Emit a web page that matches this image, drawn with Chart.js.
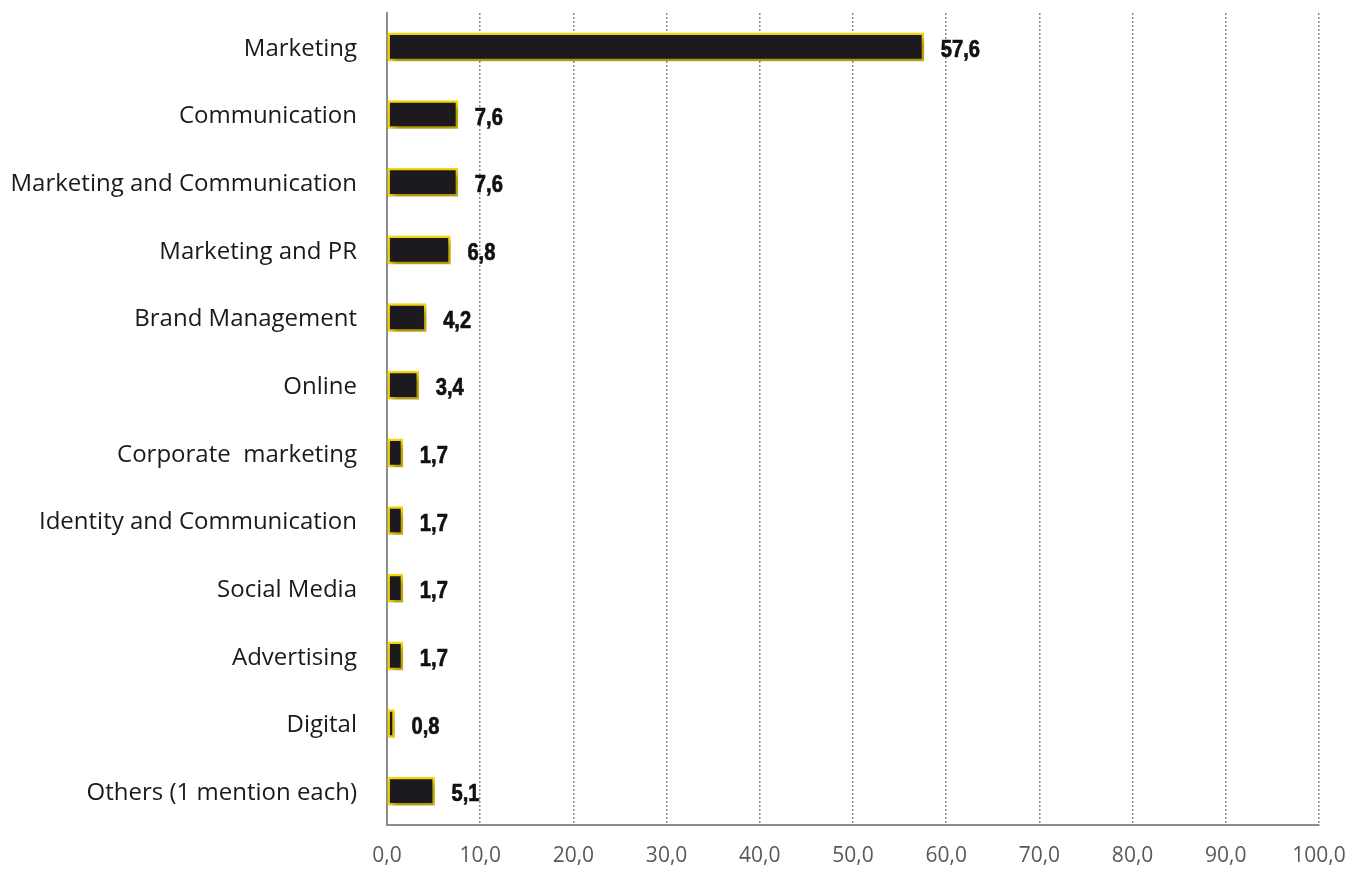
<!DOCTYPE html>
<html>
<head>
<meta charset="utf-8">
<script src="https://cdn.jsdelivr.net/npm/chart.js@4"></script>
<style>
  html, body { margin: 0; padding: 0; background: #fff; }
  #wrap { width: 1348px; height: 870px; }
</style>
</head>
<body>
<div id="wrap"><canvas id="roles"></canvas></div>
<script>
const categories = [
    'Marketing', 'Communication', 'Marketing and Communication', 'Marketing and PR',
    'Brand Management', 'Online', 'Corporate  marketing', 'Identity and Communication',
    'Social Media', 'Advertising', 'Digital', 'Others (1 mention each)'
];
const shares = [57.6, 7.6, 7.6, 6.8, 4.2, 3.4, 1.7, 1.7, 1.7, 1.7, 0.8, 5.1];
const xTicks = [0, 10, 20, 30, 40, 50, 60, 70, 80, 90, 100];

const fmt = v => v.toFixed(1).replace('.', ',');

// drop shadow under the bars
const barShadow = {
    id: 'barShadow',
    beforeDatasetDraw: (chart) => {
        const ctx = chart.ctx;
        ctx.save();
        ctx.shadowColor = 'rgba(0,0,0,0.35)';
        ctx.shadowBlur = 6;
        ctx.shadowOffsetX = 3;
        ctx.shadowOffsetY = 4;
    },
    afterDatasetDraw: (chart) => { chart.ctx.restore(); }
};

// value written to the right of each bar, bold and narrowed
const valueLabels = {
    id: 'valueLabels',
    afterDatasetsDraw: (chart) => {
        const ctx = chart.ctx;
        const meta = chart.getDatasetMeta(0);
        meta.data.forEach((bar, i) => {
            ctx.save();
            ctx.translate(bar.x + 17, bar.y + 10);
            ctx.scale(0.84, 1);
            ctx.font = 'bold 24px "Liberation Sans", Arial, sans-serif';
            ctx.fillStyle = '#111';
            ctx.strokeStyle = '#111';
            ctx.lineWidth = 0.7;
            ctx.textBaseline = 'alphabetic';
            ctx.textAlign = 'left';
            ctx.fillText(fmt(shares[i]), 0, 0);
            ctx.strokeText(fmt(shares[i]), 0, 0);
            ctx.restore();
        });
    }
};

new Chart(
    document.getElementById('roles'),
    {
        type: 'bar',
        data: {
            labels: categories,
            datasets: [{
                data: shares,
                backgroundColor: '#1c1a1e',
                borderColor: '#f7d80c',
                borderWidth: 2.5,
                borderSkipped: false,
                barThickness: 28
            }]
        },
        options: {
            indexAxis: 'y',
            responsive: true,
            maintainAspectRatio: false,
            animation: false,
            layout: { padding: { top: 13, right: 29, left: 0, bottom: 0 } },
            plugins: { legend: { display: false }, tooltip: { enabled: false } },
            scales: {
                x: {
                    min: 0,
                    max: 100,
                    afterBuildTicks: (scale) => { scale.ticks = xTicks.map(v => ({ value: v })); },
                    afterFit: (scale) => {
                        scale.height = 45;
                        scale.paddingLeft = 0;
                        scale.paddingRight = 0;
                    },
                    ticks: {
                        callback: v => fmt(v),
                        color: '#595959',
                        font: { family: '"Open Sans", "Noto Sans", sans-serif', size: 21 },
                        padding: 18,
                        maxRotation: 0
                    },
                    grid: {
                        color: ctx => ctx.index === 0 ? 'rgba(0,0,0,0)' : '#8a8a8a',
                        lineWidth: 1.5,
                        drawTicks: false
                    },
                    border: { color: '#8c8c8c', width: 2, dash: [2, 2] }
                },
                y: {
                    afterFit: (scale) => {
                        scale.width = 387;
                        scale.paddingTop = 0;
                        scale.paddingBottom = 0;
                    },
                    ticks: {
                        color: '#1a1a1a',
                        font: { family: '"Open Sans", "Noto Sans", sans-serif', size: 24 },
                        padding: 30,
                        labelOffset: 2
                    },
                    grid: { display: false, drawTicks: false },
                    border: { color: '#8c8c8c', width: 2 }
                }
            }
        },
        plugins: [barShadow, valueLabels]
    }
);
</script>
</body>
</html>
